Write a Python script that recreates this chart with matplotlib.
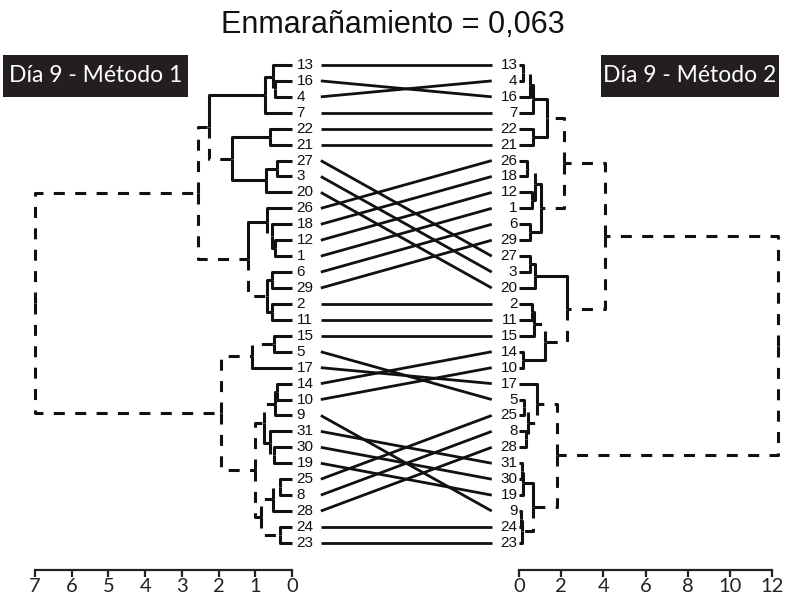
import matplotlib
matplotlib.use("Agg")
import matplotlib.pyplot as plt
from matplotlib.patches import Rectangle

title = "Enmarañamiento = 0,063"
left_name = "Día 9 - Método 1"
right_name = "Día 9 - Método 2"

left_ticks = [0, 1, 2, 3, 4, 5, 6, 7]
right_ticks = [0, 2, 4, 6, 8, 10, 12]

# Dendrograms as nested (merge height, child, child); leaves are sample labels.
left_tree = (7.0,
    (2.56,
        (2.26,
            (0.74, (0.52, "13", (0.45, "16", "4")), "7"),
            (1.63, (0.60, "22", "21"), (0.70, (0.40, "27", "3"), "20"))),
        (1.20,
            (0.68, "26", (0.55, "18", (0.46, "12", "1"))),
            (0.68, (0.55, "6", "29"), (0.55, "2", "11")))),
    (1.94,
        (1.10, (0.50, "15", "5"), "17"),
        (1.00,
            (0.75, (0.45, (0.40, "14", "10"), "9"), (0.60, "31", (0.50, "30", "19"))),
            (0.85, (0.52, (0.33, "25", "8"), "28"), (0.33, "24", "23")))))

right_tree = (12.28,
    (4.08,
        (2.13,
            (1.33,
                (0.66, (0.51, (0.20, "13", "4"), "16"), "7"),
                (0.66, "22", "21")),
            (1.02,
                (0.76, (0.38, "26", "18"), (0.61, "12", "1")),
                (0.51, "6", "29"))),
        (2.28,
            (0.76, (0.51, "27", "3"), "20"),
            (1.23, (0.71, (0.61, "2", "11"), "15"), (0.20, "14", "10")))),
    (1.80,
        (0.87, "17", (0.41, (0.26, "5", "25"), (0.31, "8", "28"))),
        (0.66, (0.20, (0.15, "31", "30"), "19"), (0.15, (0.10, "9", "24"), "23"))))


def leaves(node):
    if isinstance(node, str):
        return [node]
    return leaves(node[1]) + leaves(node[2])


def clusters(node, acc):
    if isinstance(node, str):
        return acc
    acc.add(frozenset(leaves(node)))
    clusters(node[1], acc)
    clusters(node[2], acc)
    return acc


LW = 2.2
DASH = (0, (3.6, 3.4))


def draw_tree(ax, node, ypos, shared):
    """Draw the dendrogram; edges to clusters absent from the other tree are dashed."""
    if isinstance(node, str):
        return 0.0, ypos[node]
    h = node[0]
    kids = [draw_tree(ax, c, ypos, shared) for c in node[1:]]
    y = sum(k[1] for k in kids) / len(kids)
    for child, (hc, yc) in zip(node[1:], kids):
        solid = isinstance(child, str) or frozenset(leaves(child)) in shared
        ax.plot([h, h, hc], [y, yc, yc], color="#111111", lw=LW,
                linestyle="-" if solid else DASH,
                solid_capstyle="butt", dash_capstyle="butt",
                clip_on=False)
    return h, y


left_order = leaves(left_tree)
right_order = leaves(right_tree)
left_y = {lab: i for i, lab in enumerate(left_order)}
right_y = {lab: i for i, lab in enumerate(right_order)}
left_clusters = clusters(left_tree, set())
right_clusters = clusters(right_tree, set())

W, H = 785, 600
fig = plt.figure(figsize=(W / 100, H / 100), dpi=100)
fig.patch.set_facecolor("white")

n = len(left_order)
ylim = (n + 0.70, -0.5)
bottom = 30 / H
height = 513 / H

tick_font = dict(family=["Lato", "DejaVu Sans"], size=14.5, color="#222222")

axL = fig.add_axes([35 / W, bottom, 257 / W, height])
axM = fig.add_axes([292 / W, bottom, 227 / W, height])
axR = fig.add_axes([519 / W, bottom, 253 / W, height])

for ax in (axL, axM, axR):
    ax.set_ylim(*ylim)
    ax.patch.set_alpha(0)

draw_tree(axL, left_tree, left_y, right_clusters)
draw_tree(axR, right_tree, right_y, left_clusters)

axL.set_xlim(7, 0)
axR.set_xlim(0, 12)
for ax, ticks in ((axL, left_ticks), (axR, right_ticks)):
    for s in ("top", "left", "right"):
        ax.spines[s].set_visible(False)
    ax.spines["bottom"].set_linewidth(1.6)
    ax.spines["bottom"].set_color("#222222")
    ax.set_yticks([])
    ax.set_xticks(ticks)
    ax.set_xticklabels([str(t) for t in ticks], fontdict=tick_font)
    ax.tick_params(axis="x", direction="out", length=5, width=1.6,
                   color="#222222", pad=1)

# leaf labels and connecting lines between the two orders
axM.set_xlim(0, 1)
axM.axis("off")
label_font = dict(family=["Liberation Sans", "DejaVu Sans"], size=11, color="#111111")
for lab in left_order:
    axM.text(0.020, left_y[lab], lab, ha="left", va="center", **label_font)
for lab in right_order:
    axM.text(0.993, right_y[lab], lab, ha="right", va="center", **label_font)
for lab in left_order:
    axM.plot([0.127, 0.880], [left_y[lab], right_y[lab]], color="#111111",
             lw=2.0, solid_capstyle="butt")

fig.text(0.5, 1 - 25 / H, title, ha="center", va="center",
         family=["Liberation Sans", "DejaVu Sans"], size=22, color="#111111")

# name boxes
for x0, x1, name in ((3, 188, left_name), (601, 779, right_name)):
    fig.patches.append(Rectangle((x0 / W, 1 - 97 / H), (x1 - x0) / W, 42 / H,
                                 transform=fig.transFigure, facecolor="#231f20",
                                 edgecolor="none"))
    fig.text((x0 + x1) / 2 / W, 1 - 76 / H, name, ha="center", va="center",
             family=["Lato", "DejaVu Sans"], size=16.5, color="white")

fig.savefig("out.png", dpi=100, facecolor="white")
